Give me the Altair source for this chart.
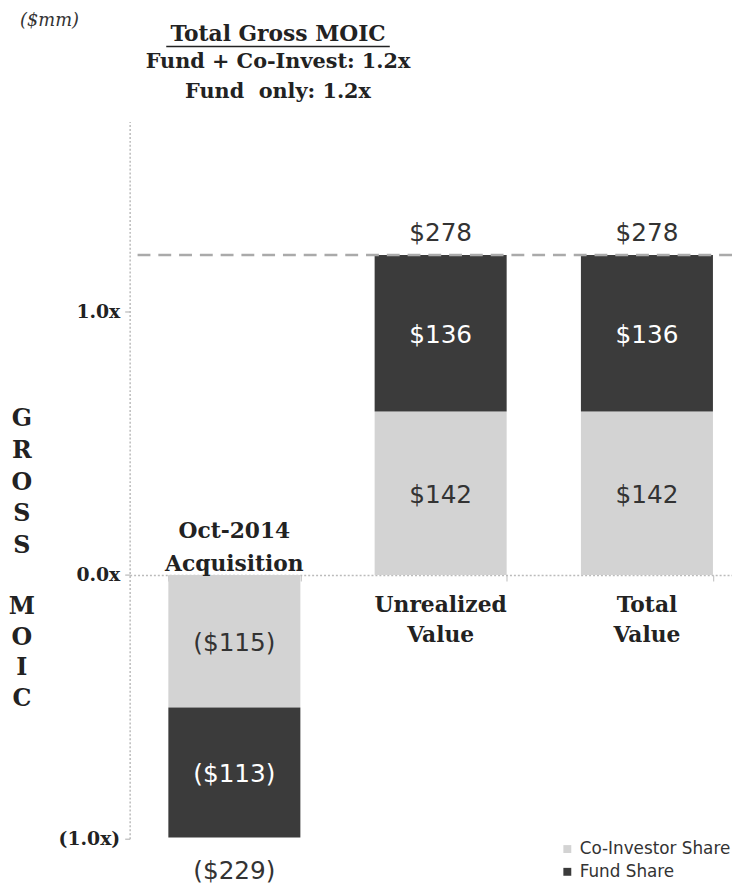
import altair as alt
import pandas as pd

# ---- data ----
categories = ["Acquisition", "Unrealized", "Total"]
category_labels = ["Oct-2014\nAcquisition", "Unrealized\nValue", "Total\nValue"]
co_investor_share = [-115, 142, 142]   # $mm
fund_share = [-113, 136, 136]          # $mm
total_labels = ["($229)", "$278", "$278"]
invested = 229                          # $mm, basis for MOIC
series = ["Co-Investor Share", "Fund Share"]
y_ticks = [-1.0, 0.0, 1.0]
y_domain = [-1.0, 1.72]
gross_moic = 278 / 229

W, H = 609, 725


def fmt(v):
    return f"(${abs(v)})" if v < 0 else f"${v}"


rows = []
for c, co, fu in zip(categories, co_investor_share, fund_share):
    rows.append(dict(cat=c, series=series[0], y0=0, y1=co / invested,
                     mid=co / 2 / invested, label=fmt(co)))
    rows.append(dict(cat=c, series=series[1], y0=co / invested, y1=(co + fu) / invested,
                     mid=(co + fu / 2) / invested, label=fmt(fu)))
bars_df = pd.DataFrame(rows)

tot_df = pd.DataFrame({
    "cat": categories,
    "end": [(a + b) / invested for a, b in zip(co_investor_share, fund_share)],
    "label": total_labels,
})
cat_df = pd.DataFrame({"cat": categories, "label": category_labels,
                       "zero": [0, 0, 0]})

SERIF = "DejaVu Serif"
SANS = "DejaVu Sans"
INK = "#222222"
NBSP = "\u00a0"

zero_off = H * (0 - y_domain[0]) / (y_domain[1] - y_domain[0])

x_enc = alt.X("cat:N", sort=categories,
              scale=alt.Scale(domain=categories, paddingInner=0.36, paddingOuter=0.14, align=0.67),
              axis=alt.Axis(orient="bottom", offset=-zero_off, labels=False, title=None,
                            tickBand="extent", domainColor="#bbbbbb", domainDash=[2, 2],
                            domainWidth=1.5, tickColor="#bbbbbb", tickSize=6, grid=False))
y_scale = alt.Scale(domain=y_domain, nice=False, zero=False)

y_axis = alt.Axis(values=y_ticks,
                  labelExpr="datum.value < 0 ? '(' + format(abs(datum.value), '.1f') + 'x)' : format(datum.value, '.1f') + 'x'",
                  labelFont=SERIF, labelFontWeight="bold", labelFontSize=19, labelColor=INK,
                  labelPadding=5, tickSize=5, tickColor="#aaaaaa", domainColor="#bbbbbb",
                  domainDash=[2, 2], domainWidth=1.5, grid=False, title=None)

bars = alt.Chart(bars_df).mark_bar().encode(
    x=x_enc,
    y=alt.Y("y0:Q", scale=y_scale, axis=y_axis),
    y2="y1:Q",
    color=alt.Color("series:N",
                    scale=alt.Scale(domain=series, range=["#d3d3d3", "#3b3b3b"]),
                    legend=alt.Legend(title=None, orient="none", legendX=434, legendY=727,
                                      symbolType="square", symbolSize=64, symbolStrokeWidth=0,
                                      labelFont=SANS, labelFontSize=17, labelColor="#333333",
                                      rowPadding=5, padding=0, labelOffset=4)),
)

seg_co = alt.Chart(bars_df).transform_filter(alt.datum.series == series[0]).mark_text(
    font=SANS, fontSize=25, color="#333333", baseline="middle", dy=2
).encode(x=alt.X("cat:N", sort=categories), y="mid:Q", text="label:N")

seg_fu = alt.Chart(bars_df).transform_filter(alt.datum.series == series[1]).mark_text(
    font=SANS, fontSize=25, color="#ffffff", baseline="middle", dy=2
).encode(x=alt.X("cat:N", sort=categories), y="mid:Q", text="label:N")

tot_pos = alt.Chart(tot_df).transform_filter(alt.datum.end > 0).mark_text(
    font=SANS, fontSize=25, color="#333333", baseline="alphabetic", dy=-14
).encode(x=alt.X("cat:N", sort=categories), y="end:Q", text="label:N")

tot_neg = alt.Chart(tot_df).transform_filter(alt.datum.end < 0).mark_text(
    font=SANS, fontSize=25, color="#333333", baseline="alphabetic", dy=42
).encode(x=alt.X("cat:N", sort=categories), y="end:Q", text="label:N")

moic_line = alt.Chart(pd.DataFrame({"v": [gross_moic]})).mark_rule(
    color="#aaaaaa", strokeWidth=2.5, strokeDash=[13, 8]
).encode(y="v:Q")

cat_above = alt.Chart(cat_df).transform_filter(alt.datum.cat == categories[0]).mark_text(
    font=SERIF, fontWeight="bold", fontSize=22, color=INK, baseline="bottom",
    lineBreak="\n", lineHeight=33, dy=-32
).encode(x=alt.X("cat:N", sort=categories), y="zero:Q", text="label:N")

cat_below = alt.Chart(cat_df).transform_filter(alt.datum.cat != categories[0]).mark_text(
    font=SERIF, fontWeight="bold", fontSize=22, color=INK, baseline="top",
    lineBreak="\n", lineHeight=31, dy=20
).encode(x=alt.X("cat:N", sort=categories), y="zero:Q", text="label:N")


def note(text, x, y, **kw):
    return alt.Chart(pd.DataFrame({"t": [text]})).mark_text(**kw).encode(
        x=alt.value(x), y=alt.value(y), text="t:N")


ytitle1 = note("G\nR\nO\nS\nS", -109, 289, font=SERIF, fontWeight="bold", fontSize=24,
               color=INK, baseline="top", lineBreak="\n", lineHeight=32)
ytitle2 = note("M\nO\nI\nC", -109, 479, font=SERIF, fontWeight="bold", fontSize=24,
               color=INK, baseline="top", lineBreak="\n", lineHeight=31)

units = note("($mm)", -81, -102, font=SERIF, fontStyle="italic", fontSize=18, color="#333333",
             baseline="middle")
title1 = note("Total Gross MOIC", 150, -88, font=SERIF, fontWeight="bold", fontSize=22,
              color=INK, baseline="middle")
title2 = note("Fund + Co-Invest: 1.2x", 150, -60, font=SERIF, fontWeight="bold", fontSize=21,
              color=INK, baseline="middle")
title3 = note("Fund" + NBSP + " only: 1.2x", 150, -30, font=SERIF, fontWeight="bold", fontSize=21,
              color=INK, baseline="middle")
underline = alt.Chart(pd.DataFrame({"a": [0]})).mark_rule(color=INK, strokeWidth=1.5).encode(
    x=alt.value(37), x2=alt.value(263), y=alt.value(-76))

chart = alt.layer(
    bars, moic_line, seg_co, seg_fu, tot_pos, tot_neg, cat_above, cat_below,
    ytitle1, ytitle2, units, title1, title2, title3, underline
).properties(
    width=W, height=H,
    autosize=alt.AutoSizeParams(type="none"),
    padding={"left": 123, "top": 110, "right": 0, "bottom": 44},
    background="white",
).configure_view(stroke=None)

chart.save("out.html", embed_options={"renderer": "svg", "actions": False})
